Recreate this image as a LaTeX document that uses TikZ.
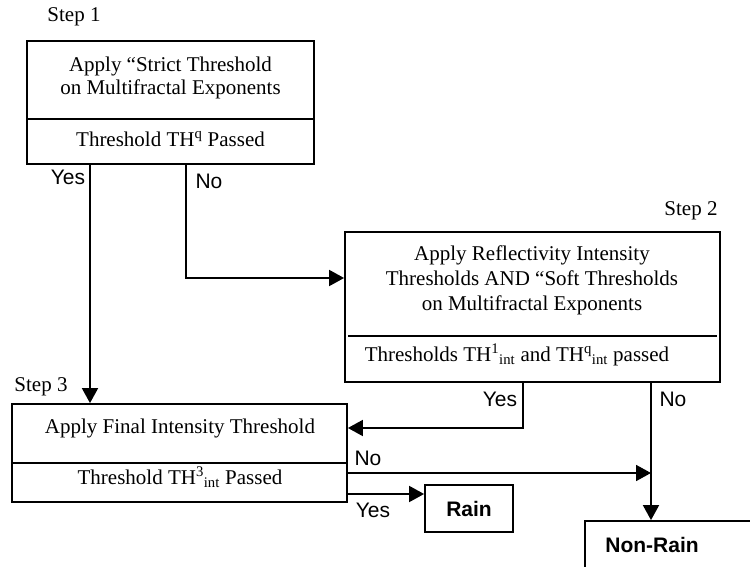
\documentclass[tikz,border=0pt]{standalone}
\usepackage{fontspec}
\setmainfont{Liberation Serif}
\setsansfont{Liberation Sans}
\usetikzlibrary{arrows.meta}
\begin{document}
\begin{tikzpicture}[x=1pt,y=-1pt,
  box/.style={draw, line width=1.8pt, inner sep=0pt, rectangle},
  conn/.style={line width=1.8pt},
  arr/.style={conn, -{Triangle[length=15pt,width=16pt]}},
  txt/.style={font=\fontsize{21}{23.5}\selectfont, align=center, inner sep=0pt},
  lbl/.style={font=\sffamily\fontsize{21}{24}\selectfont, inner sep=0pt},
  res/.style={font=\sffamily\bfseries\fontsize{21}{24}\selectfont, inner sep=0pt}]

\useasboundingbox (0,0) rectangle (750,567);
\clip (0,0) rectangle (750,567);

% step labels
\node[txt] (st1) at (74,17) {Step 1};
\node[txt] (st2) at (691,211) {Step 2};
\node[txt] (st3) at (41,387) {Step 3};

% step 1
\node[box, minimum width=287pt, minimum height=123pt] (s1) at (170.5,102.5) {};
\draw[conn] (s1.west |- 0,119) -- (s1.east |- 0,119);
\node[txt] (s1a) at (170.5,78) {Apply “Strict Threshold\\on Multifractal Exponents};
\node[txt] (s1b) at (170.5,139) {Threshold TH\textsuperscript{q} Passed};

% step 2
\node[box, minimum width=375pt, minimum height=150pt] (s2) at (532.5,307) {};
\draw[conn] (348,336) -- (717,336);
\node[txt, font=\fontsize{21}{25}\selectfont] (s2a) at (532,280) {Apply Reflectivity Intensity\\Thresholds AND “Soft Thresholds\\on Multifractal Exponents};
\node[txt] (s2b) at (517,355) {Thresholds TH\textsuperscript{1}\textsubscript{int} and TH\textsuperscript{q}\textsubscript{int} passed};

% step 3
\node[box, minimum width=335pt, minimum height=98pt] (s3) at (179.5,453) {};
\draw[conn] (11,463) -- (s3.east |- 0,463);
\node[txt] (s3a) at (180,428) {Apply Final Intensity Threshold};
\node[txt] (s3b) at (180,477) {Threshold TH\textsuperscript{3}\textsubscript{int} Passed};

% outcomes
\node[box, minimum width=88pt, minimum height=47pt] (rain) at (469,508.5) {};
\node[res] (raint) at (rain.center) {Rain};
\node[box, minimum width=235pt, minimum height=99pt] (nr) at (702.5,570.5) {};
\node[res] (nrt) at (652,545) {Non-Rain};

% connector ports
\coordinate (s1yes) at (90,164);
\coordinate (s1no) at (186,164);
\coordinate (s2yes) at (523,382);
\coordinate (s2no) at (651,382);
\coordinate (s3no) at (347,473);
\coordinate (s3yes) at (347,494);
\coordinate (join) at (651,473);

% connectors
\draw[arr] (s1yes) -- (s1yes |- s3.north);
\draw[arr] (s1no) |- (s2.west |- 0,278);
\draw[arr] (s2yes) |- (s3.east |- 0,428);
\draw[arr] (s2no) -- (s2no |- nr.north);
\draw[arr] (s3no) -- (join);
\draw[arr] (s3yes) -- (s3yes -| rain.west);

% branch labels
\node[lbl] (y1) at (68,177) {Yes};
\node[lbl] (n1) at (209,181) {No};
\node[lbl] (y2) at (500,399) {Yes};
\node[lbl] (n2) at (673,399) {No};
\node[lbl] (n3) at (368,458) {No};
\node[lbl] (y3) at (373,510) {Yes};
\end{tikzpicture}
\end{document}
